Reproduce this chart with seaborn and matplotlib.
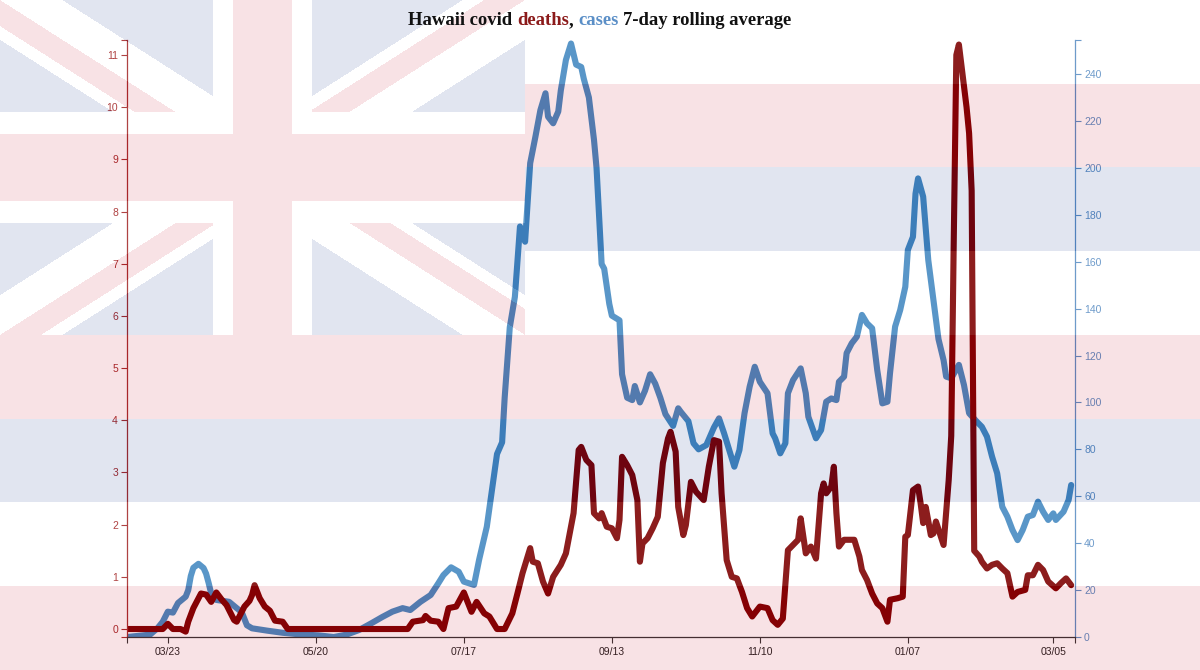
import numpy as np
import pandas as pd
import matplotlib
matplotlib.use("Agg")
import matplotlib.pyplot as plt
import seaborn as sns

# --- values (7-day rolling averages) ---
# x positions are days since the first plotted day
start_date = "2020-03-07"
end_day = 371.5

death_day = [0, 14, 16, 18, 21, 23, 24, 26, 29, 31, 33, 35, 37, 39, 42, 43, 46, 48, 49, 50,
             52, 54, 56, 58, 61, 63, 110, 112, 116, 117, 119, 122, 124, 126, 129, 132, 135, 137,
             140, 142, 145, 148, 151, 153, 155, 158, 159, 161, 163, 165, 167, 170, 172, 175, 177,
             178, 180, 182, 183, 185, 186, 188, 190, 192, 193, 194, 196, 198, 200, 201, 202, 204,
             206, 208, 210, 212, 213, 215, 216, 218, 219, 221, 223, 226, 228, 230, 232, 233, 235,
             237, 239, 241, 243, 245, 248, 251, 253, 255, 257, 259, 261, 263, 264, 266, 268, 270,
             272, 273, 274, 276, 277, 278, 279, 281, 285, 287, 288, 290, 292, 294, 296, 298, 299,
             302, 304, 305, 306, 308, 310, 311, 312, 313, 315, 316, 317, 320, 322, 323, 324, 325,
             326, 327, 328, 329, 330, 331, 332, 334, 335, 337, 339, 341, 343, 345, 347, 349, 352,
             353, 355, 357, 359, 361, 364, 366, 368, 370]
deaths = [0, 0, 0.1, 0, 0, -0.05, 0.14, 0.4, 0.68, 0.66, 0.52, 0.7, 0.57, 0.46, 0.17, 0.14,
          0.43, 0.54, 0.65, 0.84, 0.59, 0.43, 0.35, 0.16, 0.14, 0, 0, 0.14, 0.17, 0.25, 0.16,
          0.14, 0, 0.4, 0.43, 0.7, 0.33, 0.52, 0.3, 0.24, 0, 0, 0.3, 0.68, 1.07, 1.55, 1.29,
          1.26, 0.91, 0.68, 1.0, 1.23, 1.45, 2.22, 3.43, 3.49, 3.24, 3.14, 2.22, 2.12, 2.22,
          1.96, 1.93, 1.74, 2.09, 3.3, 3.14, 2.95, 2.47, 1.29, 1.64, 1.74, 1.93, 2.15, 3.18,
          3.65, 3.78, 3.4, 2.34, 1.8, 1.99, 2.82, 2.63, 2.47, 3.11, 3.62, 3.59, 2.6, 1.32, 1.0,
          0.97, 0.71, 0.4, 0.24, 0.43, 0.4, 0.17, 0.08, 0.2, 1.51, 1.61, 1.71, 2.12, 1.45, 1.58,
          1.35, 2.6, 2.79, 2.6, 2.73, 3.11, 2.22, 1.58, 1.71, 1.71, 1.39, 1.13, 0.94, 0.68, 0.49,
          0.4, 0.14, 0.56, 0.59, 0.62, 1.77, 1.8, 2.66, 2.73, 2.41, 2.03, 2.34, 1.8, 1.83, 2.06,
          1.61, 2.85, 3.7, 7.5, 11.0, 11.2, 10.8, 10.4, 10.0, 9.5, 8.4, 1.5, 1.39, 1.29, 1.16,
          1.23, 1.26, 1.16, 1.07, 0.62, 0.71, 0.75, 1.03, 1.03, 1.23, 1.13, 0.91, 0.78, 0.88,
          0.97, 0.84]

case_day = [0, 9, 12, 14, 16, 18, 20, 23, 24, 25, 26, 28, 30, 31, 32, 33, 35, 40, 43, 45, 47,
            49, 55, 61, 68, 75, 81, 86, 91, 96, 100, 104, 108, 111, 115, 119, 122, 124, 127, 130,
            132, 136, 138, 141, 145, 147, 148, 150, 152, 154, 156, 158, 160, 162, 164, 165, 167,
            169, 170, 172, 174, 176, 178, 179, 181, 183, 184, 186, 187, 189, 190, 193, 194, 196,
            198, 199, 201, 203, 205, 207, 209, 211, 214, 216, 217, 220, 222, 224, 227, 230, 232,
            234, 236, 238, 240, 242, 244, 246, 248, 251, 253, 254, 256, 258, 259, 261, 264, 266,
            267, 270, 272, 274, 276, 278, 279, 281, 282, 284, 286, 288, 290, 292, 294, 296, 298,
            299, 301, 303, 305, 306, 308, 309, 310, 312, 314, 316, 318, 320, 321, 323, 326, 328,
            330, 333, 335, 337, 339, 341, 343, 345, 347, 349, 351, 353, 355, 357, 359, 361, 363,
            364, 367, 369, 370]
cases = [0, 1, 3.8, 6.5, 10.8, 10.4, 14.5, 17.2, 20, 26, 29.5, 31.2, 29.4, 27, 23, 18.5, 15.8,
         15, 12.3, 10.5, 5, 3.7, 2.7, 1.8, 1.1, 0.7, 0, 1, 3, 6, 8.5, 10.8, 12.3, 11.5, 15, 17.9,
         22.9, 26.4, 29.7, 27.8, 23.6, 22.2, 33, 47, 78, 83, 102, 132, 145, 175, 168.5, 202, 213,
         224.6, 231.8, 221.8, 219, 224, 233, 246, 253, 244, 243, 238, 230, 212, 200, 159, 157,
         142, 137, 135, 112, 102, 101, 107, 100, 105, 112, 108, 102, 95, 90, 97.5, 96, 92, 82.6,
         80, 81.8, 89.3, 93.2, 86.8, 79.7, 72.6, 79.7, 95.4, 106.7, 115.2, 108.8, 103.9, 86.8,
         84.7, 78.3, 82.6, 103.9, 109.5, 114.5, 103.9, 93.9, 84.7, 88.2, 100.3, 101.7, 101,
         108.8, 111, 121, 125.2, 128, 137.3, 133.7, 131.6, 113.8, 99.6, 100.3, 112.4, 132.3,
         139.4, 149.3, 165, 170.6, 189, 195.5, 187.7, 160.7, 143.7, 127, 118, 111, 110.3, 116,
         107.4, 95.4, 91.8, 89.6, 85.4, 76.9, 69.8, 55.5, 51.3, 45.6, 41.3, 45.6, 51.3, 52, 57.7,
         53.4, 49.9, 52.7, 49.9, 53.4, 58.4, 64.8]

tick_dates = ["2020-03-23", "2020-05-20", "2020-07-17", "2020-09-13",
              "2020-11-10", "2021-01-07", "2021-03-05"]
tick_labels = ["03/23", "05/20", "07/17", "09/13", "11/10", "01/07", "03/05"]
death_ticks = [0, 1, 2, 3, 4, 5, 6, 7, 8, 9, 10, 11]
case_ticks = [0, 20, 40, 60, 80, 100, 120, 140, 160, 180, 200, 220, 240]

DEATH_LINE = "#7d0000"
CASE_LINE = "#4489c1"
DEATH_AXIS = "#a52a2a"
CASE_AXIS = "#5b8ec4"

sns.set_theme(style="ticks")
plt.rcParams["font.family"] = ["Liberation Sans", "DejaVu Sans"]

W, H = 1200, 670
fig = plt.figure(figsize=(W / 100, H / 100), dpi=100, facecolor="white")
ax = fig.add_axes([127 / W, 33 / H, 948 / W, 597 / H])
ax2 = ax.twinx()

start = pd.Timestamp(start_date)
deaths_df = pd.DataFrame({"date": start + pd.to_timedelta(death_day, unit="D"), "deaths": deaths})
cases_df = pd.DataFrame({"date": start + pd.to_timedelta(case_day, unit="D"), "cases": cases})

line_kw = dict(linewidth=4.4, solid_capstyle="round", solid_joinstyle="round", legend=False)
sns.lineplot(data=cases_df, x="date", y="cases", ax=ax2, color=CASE_LINE, **line_kw)
sns.lineplot(data=deaths_df, x="date", y="deaths", ax=ax, color=DEATH_LINE, **line_kw)

ax.set_zorder(2)
ax2.set_zorder(1)
ax.patch.set_visible(False)

x0, x1 = start, start + pd.Timedelta(days=end_day)
ax.set_xlim(x0, x1)
ax.set_xticks(pd.to_datetime(tick_dates))
ax.set_xticklabels(tick_labels)
ax.set_xticks([x0, x1], minor=True)

d_lo, d_hi = -0.153, 11.287
ax.set_ylim(d_lo, d_hi)
ax.set_yticks(death_ticks)
ax.set_yticks([d_lo, d_hi], minor=True)
c_hi = 254.5
ax2.set_ylim(0, c_hi)
ax2.set_yticks(case_ticks)
ax2.set_yticks([0, c_hi], minor=True)

for a in (ax, ax2):
    a.set_xlabel("")
    a.set_ylabel("")
    a.grid(False)

ax.spines["top"].set_visible(False)
ax.spines["right"].set_visible(False)
ax.spines["left"].set_color(DEATH_AXIS)
ax.spines["bottom"].set_color("#333333")
for s in ("top", "left", "bottom"):
    ax2.spines[s].set_visible(False)
ax2.spines["right"].set_color(CASE_AXIS)
for a in (ax, ax2):
    for s in a.spines.values():
        s.set_linewidth(0.9)

ax.tick_params(axis="y", which="both", colors=DEATH_AXIS, labelsize=7.5, length=4.5, width=0.8, pad=2)
ax.tick_params(axis="x", which="both", colors="#333333", labelcolor="#222222", labelsize=7.5,
               length=4.5, width=0.8, pad=3)
ax2.tick_params(axis="y", which="both", colors=CASE_AXIS, labelsize=7.5, length=4.5, width=0.8, pad=2)

# faded Hawaii flag laid over the whole picture
yy, xx = np.mgrid[0:H, 0:W] + 0.5
WHITE = np.array([255, 255, 255], dtype=np.uint8)
RED = np.array([200, 12, 35], dtype=np.uint8)
BLUE = np.array([5, 38, 130], dtype=np.uint8)
flag = np.empty((H, W, 3), dtype=np.uint8)
stripe = (yy // (H / 8)).astype(int) % 3
flag[:] = WHITE
flag[stripe == 1] = RED
flag[stripe == 2] = BLUE

cw, ch = 525, 335
cx, cy = cw / 2, ch / 2
canton = (xx < cw) & (yy < ch)
L = np.hypot(cw, ch)
s1 = (yy * cw - xx * ch) / L
s2 = (xx * ch + yy * cw - ch * cw) / L
left, top = xx < cx, yy < cy
red_diag = ((top & left & (s1 > 0) & (s1 < 22)) | (~top & ~left & (s1 < 0) & (s1 > -22))
            | (top & ~left & (s2 < 0) & (s2 > -22)) | (~top & left & (s2 > 0) & (s2 < 22)))
white_diag = (np.abs(s1) < 33.5) | (np.abs(s2) < 33.5)
white_cross = (np.abs(xx - cx) < 50) | (np.abs(yy - cy) < 56)
red_cross = (np.abs(xx - cx) < 30) | (np.abs(yy - cy) < 34)
flag[canton] = BLUE
flag[canton & white_diag] = WHITE
flag[canton & red_diag] = RED
flag[canton & white_cross] = WHITE
flag[canton & red_cross] = RED

ov = fig.add_axes([0, 0, 1, 1], zorder=10)
ov.imshow(flag, alpha=0.12, aspect="auto", interpolation="nearest")
ov.set_axis_off()

# multi-coloured title
pieces = [("Hawaii covid", "#111111", 0), ("deaths", "#8b1a1a", 1), (",", "#111111", 0),
          ("cases", "#5b8fc7", 1), ("7-day rolling average", "#111111", 1)]
tkw = dict(fontsize=13.4, fontweight="bold", family=["Liberation Serif", "DejaVu Serif"],
           va="baseline", ha="left", zorder=20)
renderer = fig.canvas.get_renderer()
probe_a = fig.text(0, 0, "a a", **tkw)
probe_b = fig.text(0, 0, "aa", **tkw)
space = probe_a.get_window_extent(renderer).width - probe_b.get_window_extent(renderer).width
probe_a.remove()
probe_b.remove()
texts, widths = [], []
for s, c, gap in pieces:
    t = fig.text(0, 0, s, color=c, **tkw)
    texts.append(t)
    widths.append(t.get_window_extent(renderer).width)
total = sum(widths) + space * sum(p[2] for p in pieces)
xpos = W / 2 - total / 2
for t, w, p in zip(texts, widths, pieces):
    xpos += space * p[2]
    t.set_position((xpos / W, 1 - 25 / H))
    xpos += w

fig.savefig("out.png", dpi=100, facecolor="white")
